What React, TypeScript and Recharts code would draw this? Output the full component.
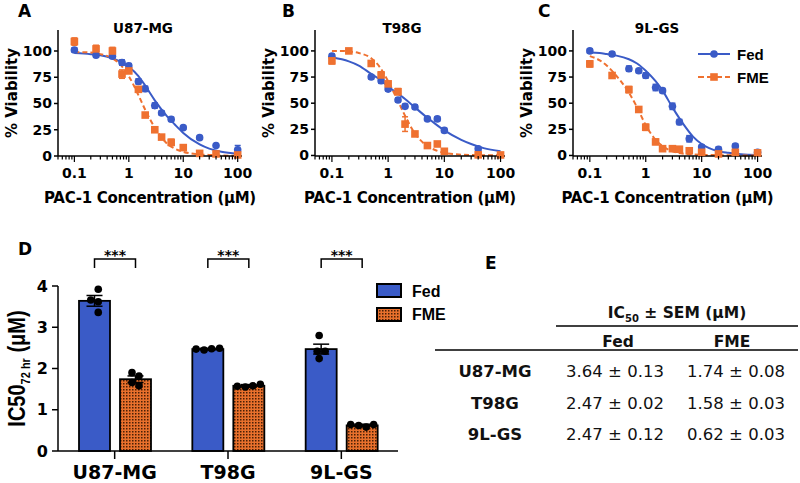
import React from 'react';
import {
  ComposedChart,
  BarChart,
  Line,
  Scatter,
  Bar,
  XAxis,
  YAxis,
  ErrorBar,
  Legend,
  Label,
} from 'recharts';

const SANS = '"DejaVu Sans", sans-serif';
const ARIAL = '"Liberation Sans", Arial, sans-serif';
const BLUE = '#3a5bc7';
const ORANGE = '#ef7130';

// ---- dose response, PAC-1 concentration (µM) vs % viability ----
const u87FedX = [0.1, 0.25, 0.5, 0.75, 1, 1.5, 2, 3, 4, 6, 10, 20, 40, 100];
const u87FedY = [101, 96, 95, 89, 86, 71, 64, 48, 41, 35, 27, 17.5, 10, 6];
const u87FedErr = [2, 2, 2, 2.5, 2, 2.5, 2.5, 2.5, 2, 2, 1.5, 1.5, 1.5, 4];
const u87FmeX = [0.1, 0.25, 0.5, 0.75, 1, 1.5, 2, 3, 4, 6, 10, 20, 40, 100];
const u87FmeY = [109, 102, 100, 78, 81, 63.5, 39, 25, 18, 13, 8, 2.5, 2, 1];
const u87FmeErr = [3.5, 3.5, 3.5, 4, 2, 2, 2, 2, 2, 3, 2, 2, 1.5, 1];

const t98FedX = [0.1, 0.5, 0.75, 1, 1.5, 2, 3, 5, 7.5, 10, 40];
const t98FedY = [95, 75, 71.5, 63.5, 53, 47, 46.4, 35, 35, 24, 6.5];
const t98FedErr = [2, 2, 2.5, 2, 2, 2, 2, 1.5, 2, 2, 2];
const t98FmeX = [0.1, 0.2, 0.5, 0.75, 1, 1.5, 2, 3, 5, 7.5, 10, 40, 100];
const t98FmeY = [90.5, 100, 88, 77, 68.5, 61, 30, 20.6, 9.5, 11, 4, 0.6, 0.5];
const t98FmeErr = [3, 1.5, 2, 3, 2, 3, 7, 2, 2, 2, 2, 1, 1];

const glFedX = [0.1, 0.25, 0.5, 0.75, 1, 1.5, 2, 3, 4, 6, 10, 20, 40, 100];
const glFedY = [100, 97, 83, 81, 76.5, 65, 62, 47, 32, 16, 8, 6, 9, 3];
const glFedErr = [2, 2, 2.5, 2, 2.5, 3, 2, 3, 2.5, 3, 2, 2, 2, 2.5];
const glFmeX = [0.1, 0.25, 0.5, 0.75, 1, 1.5, 2, 3, 4, 6, 10, 20, 40, 100];
const glFmeY = [87.6, 76.5, 63, 44, 27, 13, 6.5, 6.5, 6, 4.5, 3, 1.5, 3, 2.5];
const glFmeErr = [3, 2.5, 3, 2.5, 3, 2.5, 2, 2, 2, 2, 3, 2, 2.5, 2];

// fitted curves
const fitX = [0.1, 0.15, 0.2, 0.3, 0.5, 0.7, 1, 1.5, 2, 3, 5, 7, 10, 20, 30, 50, 100];
const u87FedFit = [98, 97.5, 97, 96, 93, 90, 85, 76, 67, 53, 38, 30, 22, 11, 7, 4, 2];
const u87FmeFit = [99, 98.8, 98.5, 97, 93, 87, 76, 58, 44, 27, 12, 7, 4, 1.5, 1, 0.5, 0.2];
const t98FedFit = [94, 92, 90, 86, 78, 73, 66, 59, 54, 46, 36, 30, 24, 15, 11, 7, 4];
const t98FmeFit = [100, 100, 99.5, 98, 93, 85, 71, 52, 38, 21, 9, 5, 2.5, 0.8, 0.4, 0.2, 0.1];
const glFedFit = [98.5, 98, 97, 95.5, 92, 88, 81, 71, 62, 46, 28, 18, 11, 4, 2.5, 1.2, 0.5];
const glFmeFit = [95, 91, 86, 76, 60, 46, 29, 15, 9, 4, 1.5, 1, 0.6, 0.3, 0.2, 0.1, 0];

const majorTicks = [0.1, 1, 10, 100];
const logTicks = [
  0.05, 0.06, 0.07, 0.08, 0.09, 0.1, 0.2, 0.3, 0.4, 0.5, 0.6, 0.7, 0.8, 0.9,
  1, 2, 3, 4, 5, 6, 7, 8, 9, 10, 20, 30, 40, 50, 60, 70, 80, 90, 100,
];
const viabilityTicks = [0, 25, 50, 75, 100];

// ---- IC50 (72 hr) ----
const cellLines = ['U87-MG', 'T98G', '9L-GS'];
const fedMean = [3.64, 2.47, 2.47];
const fmeMean = [1.74, 1.58, 0.62];
const fedSem = [0.13, 0.02, 0.12];
const fmeSem = [0.08, 0.03, 0.03];
const fedReps = [[3.92, 3.66, 3.62, 3.36], [2.45, 2.49, 2.47, 2.48], [2.8, 2.42, 2.42, 2.24]];
const fmeReps = [[1.82, 1.9, 1.58, 1.66], [1.55, 1.62, 1.57, 1.58], [0.58, 0.64, 0.62, 0.64]];
const significance = ['***', '***', '***'];
const ic50Ticks = [0, 1, 2, 3, 4];

const toPoints = (xs: number[], ys: number[], errs?: number[]) =>
  xs.map((x, i) => ({ x, y: ys[i], e: errs ? errs[i] : 0 }));

const ic50Rows = cellLines.map((name, i) => ({
  name,
  fed: fedMean[i],
  fme: fmeMean[i],
  fedSem: fedSem[i],
  fmeSem: fmeSem[i],
  fedReps: fedReps[i],
  fmeReps: fmeReps[i],
  sig: significance[i],
}));

// layout of the dose-response panels
const DOSE_H = 210;
const PLOT_TOP = 30;
const PLOT_BOTTOM = 156;

const LogTick = (props: any) => {
  const { x, y, payload } = props;
  const v = payload.value;
  const major = majorTicks.includes(v);
  return (
    <g>
      <line x1={x} x2={x} y1={y} y2={y + (major ? 6 : 3.5)} stroke="#000" strokeWidth={1.2} />
      {major && (
        <text x={x} y={y + 22} textAnchor="middle" fontFamily={SANS} fontWeight="bold" fontSize={14} fill="#000">
          {String(v)}
        </text>
      )}
    </g>
  );
};

const circleShape = (color: string) => (p: any) =>
  <circle cx={p.cx} cy={p.cy} r={3.8} fill={color} />;
const squareShape = (color: string) => (p: any) =>
  <rect x={p.cx - 3.8} y={p.cy - 3.8} width={7.6} height={7.6} fill={color} />;

const DoseLegend = () => (
  <svg width={80} height={45}>
    <line x1={0} x2={32} y1={10} y2={10} stroke={BLUE} strokeWidth={2} />
    <circle cx={16} cy={10} r={3.8} fill={BLUE} />
    <text x={39} y={16} fontFamily={ARIAL} fontWeight="bold" fontSize={15}>Fed</text>
    <line x1={0} x2={32} y1={33} y2={33} stroke={ORANGE} strokeWidth={2} strokeDasharray="6 3" />
    <rect x={12.2} y={29.2} width={7.6} height={7.6} fill={ORANGE} />
    <text x={39} y={38.5} fontFamily={ARIAL} fontWeight="bold" fontSize={15}>FME</text>
  </svg>
);

interface DoseProps {
  width: number;
  fed: { x: number; y: number; e: number }[];
  fme: { x: number; y: number; e: number }[];
  fedFit: { x: number; y: number }[];
  fmeFit: { x: number; y: number }[];
  legend?: boolean;
}

const DoseChart: React.FC<DoseProps> = ({ width, fed, fme, fedFit, fmeFit, legend }) => (
  <ComposedChart width={width} height={DOSE_H} margin={{ top: PLOT_TOP, right: 18, left: 0, bottom: 0 }}>
    <XAxis
      dataKey="x"
      type="number"
      scale="log"
      domain={[0.05, 120]}
      ticks={logTicks}
      interval={0}
      tick={LogTick}
      tickLine={false}
      tickSize={0}
      tickMargin={0}
      axisLine={{ stroke: '#000', strokeWidth: 1.5 }}
      height={DOSE_H - PLOT_BOTTOM}
    >
      <Label
        content={({ viewBox }: any) => (
          <text
            x={viewBox.x + viewBox.width / 2}
            y={viewBox.y + 47}
            textAnchor="middle"
            fontFamily={SANS}
            fontWeight="bold"
            fontSize={15}
            letterSpacing={-0.3}
            fill="#000"
          >
            PAC-1 Concentration (μM)
          </text>
        )}
      />
    </XAxis>
    <YAxis
      type="number"
      domain={[0, 120]}
      ticks={viabilityTicks}
      width={58}
      tickSize={4}
      tickMargin={2}
      tickLine={{ stroke: '#000', strokeWidth: 1.5 }}
      axisLine={{ stroke: '#000', strokeWidth: 1.5 }}
      tick={{ fontFamily: SANS, fontWeight: 'bold', fontSize: 14, fill: '#000' }}
    >
      <Label
        content={({ viewBox }: any) => (
          <text
            transform={`translate(17, ${viewBox.y + viewBox.height / 2}) rotate(-90)`}
            textAnchor="middle"
            fontFamily={SANS}
            fontWeight="bold"
            fontSize={15}
            fill="#000"
          >
            % Viability
          </text>
        )}
      />
    </YAxis>
    {legend && (
      <Legend
        layout="vertical"
        align="center"
        verticalAlign="middle"
        content={<DoseLegend />}
        wrapperStyle={{ left: width - 82, top: 44, width: 80 }}
      />
    )}
    <Line data={fedFit} dataKey="y" type="monotone" stroke={BLUE} strokeWidth={2} dot={false} isAnimationActive={false} />
    <Line data={fmeFit} dataKey="y" type="monotone" stroke={ORANGE} strokeWidth={2} strokeDasharray="5 3" dot={false} isAnimationActive={false} />
    <Scatter data={fed} dataKey="y" shape={circleShape(BLUE)} isAnimationActive={false}>
      <ErrorBar dataKey="e" direction="y" width={3} stroke={BLUE} strokeWidth={1.5} />
    </Scatter>
    <Scatter data={fme} dataKey="y" shape={squareShape(ORANGE)} isAnimationActive={false}>
      <ErrorBar dataKey="e" direction="y" width={3} stroke={ORANGE} strokeWidth={1.5} />
    </Scatter>
  </ComposedChart>
);

// ---- bar panel ----
const D_TOP = 86;
const BAR_SIZE = 31;
const BAR_GAP = 10;
const DOT_R = 3.8;

// spread replicate dots sideways so they don't overlap
function swarm(ys: number[], d: number): number[] {
  const order = ys.map((_, i) => i).sort((a, b) => ys[b] - ys[a]);
  const xs = ys.map(() => 0);
  const placed: number[] = [];
  order.forEach((i) => {
    for (let k = 0; k < 80; k++) {
      const off = k === 0 ? 0 : (k % 2 ? -1 : 1) * Math.ceil(k / 2) * 0.5;
      if (placed.every((j) => Math.hypot(xs[j] - off, ys[j] - ys[i]) >= d)) {
        xs[i] = off;
        break;
      }
    }
    placed.push(i);
  });
  const mid = (Math.min(...xs) + Math.max(...xs)) / 2;
  return xs.map((x) => x - mid);
}

const barShape = (valueKey: 'fed' | 'fme', repsKey: 'fedReps' | 'fmeReps', fill: string, bracket: boolean) =>
  (props: any) => {
    const { x, y, width, height, payload } = props;
    const base = y + height;
    const k = height / payload[valueKey];
    const ys = payload[repsKey].map((r: number) => base - r * k);
    const xs = swarm(ys, DOT_R * 2);
    const cx = x + width / 2;
    const cx2 = cx + width + BAR_GAP;
    return (
      <g>
        <rect x={x} y={y} width={width} height={height} fill={fill} stroke="#000" strokeWidth={1.8} />
        {ys.map((dy: number, i: number) => (
          <circle key={i} cx={cx + xs[i]} cy={dy} r={DOT_R} fill="#000" />
        ))}
        {bracket && (
          <g>
            <polyline
              points={`${cx},${D_TOP - 18} ${cx},${D_TOP - 27} ${cx2},${D_TOP - 27} ${cx2},${D_TOP - 18}`}
              fill="none"
              stroke="#000"
              strokeWidth={1.5}
            />
            <text x={(cx + cx2) / 2} y={D_TOP - 26} textAnchor="middle" fontFamily={SANS} fontWeight="bold" fontSize={14}>
              {payload.sig}
            </text>
          </g>
        )}
      </g>
    );
  };

const BarLegend = () => (
  <svg width={80} height={45}>
    <rect x={1} y={1} width={24} height={13} fill={BLUE} stroke="#000" strokeWidth={2} />
    <text x={36} y={13.5} fontFamily={ARIAL} fontWeight="bold" fontSize={16}>Fed</text>
    <rect x={1} y={25} width={24} height={13} fill="url(#fmeChecker)" stroke="#000" strokeWidth={2} />
    <text x={36} y={37} fontFamily={ARIAL} fontWeight="bold" fontSize={16}>FME</text>
  </svg>
);

const IC50Chart = () => (
  <BarChart
    width={420}
    height={283}
    data={ic50Rows}
    margin={{ top: D_TOP, right: 22, left: 0, bottom: 0 }}
    barSize={BAR_SIZE}
    barGap={BAR_GAP}
  >
    <defs>
      <pattern id="fmeChecker" width={3} height={3} patternUnits="userSpaceOnUse">
        <rect width={3} height={3} fill="#e8702c" />
        <rect width={1.5} height={1.5} fill="#4a1f06" />
      </pattern>
    </defs>
    <XAxis
      dataKey="name"
      interval={0}
      height={32}
      tickSize={8}
      tickMargin={7}
      tickLine={{ stroke: '#000', strokeWidth: 1.5 }}
      axisLine={{ stroke: '#000', strokeWidth: 1.5 }}
      tick={{ fontFamily: SANS, fontWeight: 'bold', fontSize: 19, fill: '#000' }}
    />
    <YAxis
      type="number"
      domain={[0, 4]}
      ticks={ic50Ticks}
      width={58}
      tickSize={6}
      tickMargin={4}
      tickLine={{ stroke: '#000', strokeWidth: 1.5 }}
      axisLine={{ stroke: '#000', strokeWidth: 1.5 }}
      tick={{ fontFamily: SANS, fontWeight: 'bold', fontSize: 16, fill: '#000' }}
    >
      <Label
        content={({ viewBox }: any) => (
          <text
            transform={`translate(25, ${viewBox.y + viewBox.height / 2}) rotate(-90) scale(1, 1.15)`}
            textAnchor="middle"
            fontFamily={ARIAL}
            fontWeight="bold"
            fontSize={20}
            fill="#000"
          >
            IC50
            <tspan fontSize={11} dy={4}>72 hr</tspan>
            <tspan dy={-4}> (μM)</tspan>
          </text>
        )}
      />
    </YAxis>
    <Legend
      layout="vertical"
      align="center"
      verticalAlign="middle"
      content={<BarLegend />}
      wrapperStyle={{ left: 376, top: 83, width: 80 }}
    />
    <Bar dataKey="fed" fill={BLUE} shape={barShape('fed', 'fedReps', BLUE, true)} isAnimationActive={false}>
      <ErrorBar dataKey="fedSem" direction="y" width={8} stroke="#000" strokeWidth={1.5} />
    </Bar>
    <Bar dataKey="fme" fill="url(#fmeChecker)" shape={barShape('fme', 'fmeReps', 'url(#fmeChecker)', false)} isAnimationActive={false}>
      <ErrorBar dataKey="fmeSem" direction="y" width={8} stroke="#000" strokeWidth={1.5} />
    </Bar>
  </BarChart>
);

const fmt = (v: number) => v.toFixed(2);

const App: React.FC = () => (
  <div style={{ position: 'absolute', left: 0, top: 0, width: 800, height: 483, overflow: 'hidden', background: '#fff' }}>
    <div style={{ position: 'absolute', left: 0, top: 0 }}>
      <DoseChart
        width={260}
        fed={toPoints(u87FedX, u87FedY, u87FedErr)}
        fme={toPoints(u87FmeX, u87FmeY, u87FmeErr)}
        fedFit={toPoints(fitX, u87FedFit)}
        fmeFit={toPoints(fitX, u87FmeFit)}
      />
    </div>
    <div style={{ position: 'absolute', left: 257, top: 0 }}>
      <DoseChart
        width={266}
        fed={toPoints(t98FedX, t98FedY, t98FedErr)}
        fme={toPoints(t98FmeX, t98FmeY, t98FmeErr)}
        fedFit={toPoints(fitX, t98FedFit)}
        fmeFit={toPoints(fitX, t98FmeFit)}
      />
    </div>
    <div style={{ position: 'absolute', left: 515, top: 0 }}>
      <DoseChart
        width={265}
        fed={toPoints(glFedX, glFedY, glFedErr)}
        fme={toPoints(glFmeX, glFmeY, glFmeErr)}
        fedFit={toPoints(fitX, glFedFit)}
        fmeFit={toPoints(fitX, glFmeFit)}
        legend
      />
    </div>
    <div style={{ position: 'absolute', left: 0, top: 200 }}>
      <IC50Chart />
    </div>
    <svg width={800} height={483} style={{ position: 'absolute', left: 0, top: 0, pointerEvents: 'none' }}>
      <g fontFamily={SANS} fontWeight="bold" fontSize={17} fill="#000">
        <text x={18} y={17}>A</text>
        <text x={282} y={17}>B</text>
        <text x={538} y={17}>C</text>
        <text x={18} y={255}>D</text>
        <text x={485} y={269}>E</text>
      </g>
      <g fontFamily={SANS} fontWeight="bold" fontSize={13.5} fill="#000" textAnchor="middle">
        <text x={143} y={33}>{cellLines[0]}</text>
        <text x={402} y={33}>{cellLines[1]}</text>
        <text x={657} y={33}>{cellLines[2]}</text>
      </g>
      {/* table E */}
      <g fontFamily={SANS} fill="#111">
        <text x={677} y={318} textAnchor="middle" fontWeight="bold" fontSize={15.5}>
          IC<tspan fontSize={10} dy={4}>50</tspan>
          <tspan dy={-4}> ± SEM (μM)</tspan>
        </text>
        <line x1={556} x2={798} y1={326} y2={326} stroke="#000" strokeWidth={1.5} />
        <text x={618} y={346.5} textAnchor="middle" fontWeight="bold" fontSize={15.5}>Fed</text>
        <text x={732} y={346.5} textAnchor="middle" fontWeight="bold" fontSize={15.5}>FME</text>
        <line x1={435} x2={798} y1={350} y2={350} stroke="#000" strokeWidth={1.5} />
        {cellLines.map((name, i) => {
          const by = 377 + i * 31.5;
          return (
            <g key={name} fontSize={16.5}>
              <text x={495} y={by} textAnchor="middle" fontWeight="bold">{name}</text>
              <text x={615} y={by} textAnchor="middle">{`${fmt(fedMean[i])} ± ${fmt(fedSem[i])}`}</text>
              <text x={736} y={by} textAnchor="middle">{`${fmt(fmeMean[i])} ± ${fmt(fmeSem[i])}`}</text>
            </g>
          );
        })}
      </g>
    </svg>
  </div>
);

export default App;
